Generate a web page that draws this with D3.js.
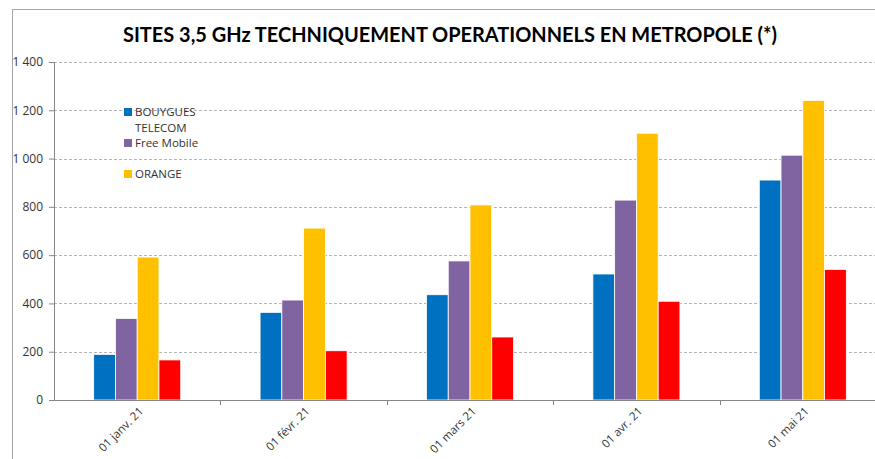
<!DOCTYPE html>
<html>
<head>
<meta charset="utf-8">
<script src="https://cdn.jsdelivr.net/npm/d3@7"></script>
<style>
  body { margin: 0; background: #fff; }
  svg { display: block; font-family: "Open Sans", sans-serif; }
</style>
</head>
<body>
<div id="chart"></div>
<script>
// categories and series
var categories = ["01 janv. 21", "01 févr. 21", "01 mars 21", "01 avr. 21", "01 mai 21"];
var operators = ["BOUYGUES TELECOM", "Free Mobile", "ORANGE", "SFR"];
var bouygues = [189, 363, 436, 522, 911];
var free = [338, 414, 576, 828, 1014];
var orange = [592, 712, 808, 1105, 1241];
var sfr = [166, 204, 261, 409, 541];
var yTicks = [0, 200, 400, 600, 800, 1000, 1200, 1400];
var colors = ["#0070C0", "#8064A2", "#FFC000", "#FF0000"];
// the legend in the source only lists three operators
var legendItems = [["BOUYGUES", "TELECOM"], ["Free Mobile"], ["ORANGE"]];

var series = [bouygues, free, orange, sfr];
var data = categories.map((c, i) => ({cat: c, values: series.map(s => s[i])}));

const W = 875, H = 459;
const margin = {top: 62, left: 54, bottom: 59};
const plotRight = 886; // the source picture is cut on the right
const height = H - margin.top - margin.bottom;

var svg = d3.select("#chart").append("svg")
    .attr("width", W)
    .attr("height", H);

// outer frame of the chart area
svg.append("rect")
    .attr("x", 12.5).attr("y", 9.5)
    .attr("width", W).attr("height", H)
    .attr("fill", "none")
    .attr("stroke", "#a6a6a6");

svg.append("text")
    .attr("x", 450)
    .attr("y", 42)
    .attr("text-anchor", "middle")
    .style("font-size", "21px")
    .style("font-weight", "bold")
    .style("font-family", "Lato, sans-serif")
    .attr("fill", "#000")
    .attr("textLength", 654)
    .attr("lengthAdjust", "spacingAndGlyphs")
    .text("SITES 3,5 GHz TECHNIQUEMENT OPERATIONNELS EN METROPOLE (*)");

var g = svg.append("g")
    .attr("transform", `translate(${margin.left},${margin.top})`);

var xScale = d3.scaleBand()
    .domain(categories)
    .range([0, plotRight - margin.left])
    .paddingInner(0.477)
    .paddingOuter(0.2385);

var xSub = d3.scaleBand()
    .domain(d3.range(operators.length))
    .range([0, xScale.bandwidth()]);

var yScale = d3.scaleLinear()
    .domain([0, 1400])
    .range([height, 0]);

// gridlines
g.append("g").selectAll("line")
    .data(yTicks.filter(d => d > 0))
    .enter().append("line")
    .attr("x1", 0)
    .attr("x2", plotRight - margin.left)
    .attr("y1", d => Math.round(yScale(d)) + 0.5)
    .attr("y2", d => Math.round(yScale(d)) + 0.5)
    .attr("stroke", "#b4b4b4")
    .attr("stroke-dasharray", "3,2");

// bars
var groups = g.append("g").selectAll("g")
    .data(data)
    .enter().append("g")
    .attr("transform", d => `translate(${xScale(d.cat)},0)`);

groups.selectAll("rect")
    .data(d => d.values.map((v, i) => ({i: i, v: v})))
    .enter().append("rect")
    .attr("x", d => xSub(d.i))
    .attr("y", d => yScale(d.v))
    .attr("width", xSub.bandwidth())
    .attr("height", d => height - yScale(d.v))
    .attr("fill", d => colors[d.i])
    .attr("stroke", "#fff")
    .attr("stroke-width", 0.8);

// y axis
var yAxis = g.append("g")
    .call(d3.axisLeft(yScale).tickValues(yTicks).tickSize(5).tickPadding(6)
        .tickFormat(d => d3.format(",")(d).replace(",", " ")));
yAxis.select(".domain").attr("stroke", "#868686").attr("d", `M0.5,0V${height}`);
yAxis.selectAll(".tick line").attr("stroke", "#868686");
yAxis.selectAll("text")
    .style("font-size", "12px")
    .attr("fill", "#333")
    .style("font-family", "'Open Sans', sans-serif");

// x axis with ticks between categories
var xAxisG = g.append("g")
    .attr("transform", `translate(0,${height})`);
xAxisG.append("line")
    .attr("x1", 0).attr("x2", plotRight - margin.left)
    .attr("y1", 0.5).attr("y2", 0.5)
    .attr("stroke", "#868686");
var step = xScale.step();
xAxisG.selectAll(".sep")
    .data(d3.range(1, categories.length))
    .enter().append("line")
    .attr("x1", d => Math.round(d * step) + 0.5)
    .attr("x2", d => Math.round(d * step) + 0.5)
    .attr("y1", 0).attr("y2", 5)
    .attr("stroke", "#868686");
xAxisG.selectAll(".lab")
    .data(categories)
    .enter().append("text")
    .attr("transform", d => `translate(${xScale(d) + xScale.bandwidth() / 2 + 4},${9}) rotate(-45)`)
    .attr("text-anchor", "end")
    .attr("dy", "0.35em")
    .style("font-size", "11.5px")
    .attr("fill", "#333")
    .text(d => d);

// legend
var legend = svg.append("g");
var rows = [[0, 112], [1, 143], [2, 174]];
rows.forEach(function(r) {
    var idx = r[0], y = r[1];
    legend.append("rect")
        .attr("x", 124).attr("y", y - 4)
        .attr("width", 8).attr("height", 8)
        .attr("fill", colors[idx]);
    legendItems[idx].forEach(function(line, j) {
        legend.append("text")
            .attr("x", 135)
            .attr("y", y + j * 16)
            .attr("dy", "0.35em")
            .style("font-size", "11.5px")
            .attr("fill", "#333")
            .text(line);
    });
});
</script>
</body>
</html>
